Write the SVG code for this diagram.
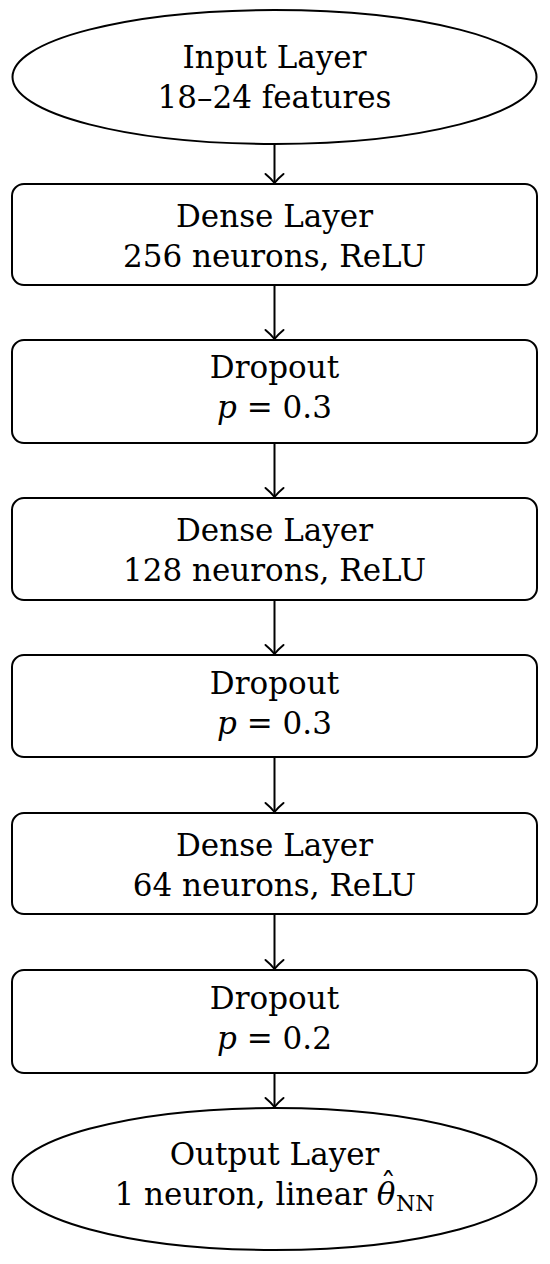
<svg xmlns="http://www.w3.org/2000/svg" width="550" height="1264" viewBox="0 0 550 1264">
<style>
.shape{fill:#fff;stroke:#000;stroke-width:2}
.lbl{font-family:"DejaVu Serif","Liberation Serif",serif;font-size:31px;fill:#000;text-anchor:middle}
.edge{stroke:#000;stroke-width:2;fill:none}
</style>
<defs>
<marker id="arr" markerUnits="userSpaceOnUse" markerWidth="24" markerHeight="24" viewBox="-12 -12 24 24" refX="0" refY="0" orient="auto">
<path d="M-9,-9 Q-4,-3 0,0 Q-4,3 -9,9" fill="none" stroke="#000" stroke-width="2" stroke-linecap="round"/>
</marker>
</defs>
<rect width="550" height="1264" fill="#fff"/>
<g id="connectors">
<line class="edge" x1="274.5" y1="144" x2="274.5" y2="183" marker-end="url(#arr)"/>
<line class="edge" x1="274.5" y1="285" x2="274.5" y2="339" marker-end="url(#arr)"/>
<line class="edge" x1="274.5" y1="443" x2="274.5" y2="497" marker-end="url(#arr)"/>
<line class="edge" x1="274.5" y1="600" x2="274.5" y2="654" marker-end="url(#arr)"/>
<line class="edge" x1="274.5" y1="757" x2="274.5" y2="812" marker-end="url(#arr)"/>
<line class="edge" x1="274.5" y1="914" x2="274.5" y2="969" marker-end="url(#arr)"/>
<line class="edge" x1="274.5" y1="1073" x2="274.5" y2="1107" marker-end="url(#arr)"/>
</g>
<g id="input">
<ellipse class="shape" cx="274.5" cy="77" rx="262" ry="67"/>
<text class="lbl" x="274.5" y="68">Input Layer</text>
<text class="lbl" x="274.5" y="108">18–24 features</text>
</g>
<g id="dense1">
<rect class="shape" x="12" y="184" width="525" height="101" rx="12"/>
<text class="lbl" x="274.5" y="227">Dense Layer</text>
<text class="lbl" x="274.5" y="267">256 neurons, ReLU</text>
</g>
<g id="dropout1">
<rect class="shape" x="12" y="340" width="525" height="103" rx="12"/>
<text class="lbl" x="274.5" y="378">Dropout</text>
<text class="lbl" x="274.5" y="418"><tspan font-style="italic">p</tspan> = 0.3</text>
</g>
<g id="dense2">
<rect class="shape" x="12" y="498" width="525" height="102" rx="12"/>
<text class="lbl" x="274.5" y="541">Dense Layer</text>
<text class="lbl" x="274.5" y="581">128 neurons, ReLU</text>
</g>
<g id="dropout2">
<rect class="shape" x="12" y="655" width="525" height="102" rx="12"/>
<text class="lbl" x="274.5" y="694">Dropout</text>
<text class="lbl" x="274.5" y="734"><tspan font-style="italic">p</tspan> = 0.3</text>
</g>
<g id="dense3">
<rect class="shape" x="12" y="813" width="525" height="101" rx="12"/>
<text class="lbl" x="274.5" y="856">Dense Layer</text>
<text class="lbl" x="274.5" y="896">64 neurons, ReLU</text>
</g>
<g id="dropout3">
<rect class="shape" x="12" y="970" width="525" height="103" rx="12"/>
<text class="lbl" x="274.5" y="1009">Dropout</text>
<text class="lbl" x="274.5" y="1049"><tspan font-style="italic">p</tspan> = 0.2</text>
</g>
<g id="output">
<ellipse class="shape" cx="274.5" cy="1179" rx="262" ry="71"/>
<text class="lbl" x="274.5" y="1165">Output Layer</text>
<text class="lbl" x="274.5" y="1205">1 neuron, linear <tspan font-style="italic">θ</tspan><tspan dx="-15" dy="-9">ˆ</tspan><tspan font-size="22" dx="0" dy="15">NN</tspan></text>
</g>
</svg>
